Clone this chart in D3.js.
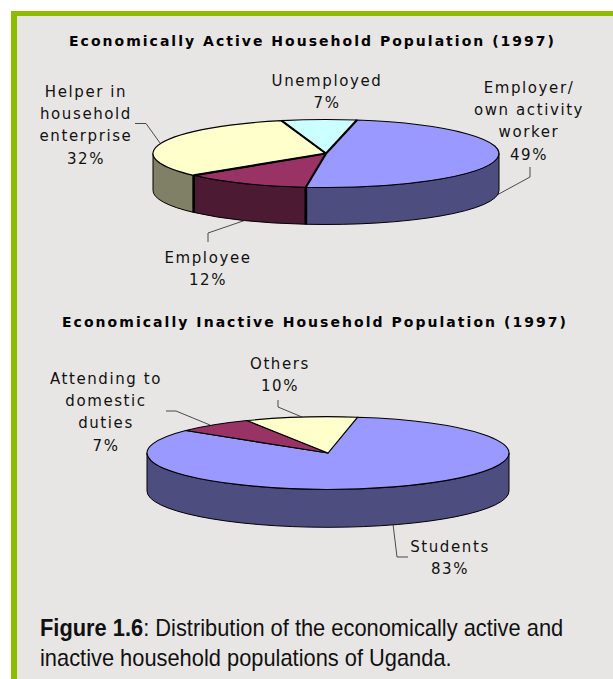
<!DOCTYPE html>
<html><head><meta charset="utf-8">
<script src="https://cdn.jsdelivr.net/npm/d3@7"></script>
<style>html,body{margin:0;padding:0;background:#fff}svg{display:block}</style>
</head><body><div id="c"></div>
<script>
const activeCategories = ["Employer/ own activity worker","Employee","Helper in household enterprise","Unemployed"];
const activeValues = [49,12,32,7];
const activeTop = ["#9999ff","#993366","#ffffcc","#ccffff"];
const activeSide = ["#4d4d80","#4d1a33","#808066","#668080"];
const inactiveCategories = ["Students","Attending to domestic duties","Others"];
const inactiveValues = [83,7,10];
const inactiveTop = ["#9999ff","#993366","#ffffcc"];
const inactiveSide = ["#4d4d80","#4d1a33","#808066"];

const W=613,H=679;
const svg=d3.select("#c").append("svg").attr("width",W).attr("height",H);
svg.append("rect").attr("width",W).attr("height",H).attr("fill","#fff");
svg.append("rect").attr("x",11).attr("y",11).attr("width",W).attr("height",H).attr("fill","#8cbb00");
svg.append("rect").attr("x",17).attr("y",16).attr("width",W).attr("height",H).attr("fill","#e8e6e4");

const rad=d=>d*Math.PI/180;
function pie3d(o){
  const g=svg.append("g").attr("transform",`translate(${o.cx},${o.cy})`);
  const slices=d3.pie().sort(null).startAngle(rad(o.start)).endAngle(rad(o.start+360))(o.values);
  const k=o.ry/o.rx;
  const pt=a=>[o.rx*Math.sin(a),-o.ry*Math.cos(a)];
  const lo=Math.PI/2, hi=3*Math.PI/2;
  slices.forEach((s,i)=>{
    const a0=Math.max(s.startAngle,lo), a1=Math.min(s.endAngle,hi);
    if(a1<=a0) return;
    const p0=pt(a0),p1=pt(a1);
    g.append("path").attr("fill",o.side[i]).attr("stroke","#000").attr("stroke-width",1)
     .attr("d",`M${p0[0]},${p0[1]}A${o.rx},${o.ry} 0 0 1 ${p1[0]},${p1[1]}L${p1[0]},${p1[1]+o.depth}A${o.rx},${o.ry} 0 0 0 ${p0[0]},${p0[1]+o.depth}Z`);
  });
  const arc=d3.arc().innerRadius(0).outerRadius(o.rx);
  slices.forEach((s,i)=>{
    g.append("path").attr("transform",`scale(1,${k})`).attr("d",arc(s))
     .attr("fill",o.top[i]).attr("stroke","#000").attr("stroke-width",1.1)
     .attr("stroke-linejoin","round").style("vector-effect","non-scaling-stroke");
  });
  if(o.seam) slices.forEach(s=>{
    const p=pt(s.startAngle);
    g.append("line").attr("x1",0).attr("y1",0).attr("x2",p[0]).attr("y2",p[1]).attr("stroke","#000").attr("stroke-width",o.seam);
    if(s.startAngle>lo&&s.startAngle<hi)
      g.append("line").attr("x1",p[0]).attr("y1",p[1]).attr("x2",p[0]).attr("y2",p[1]+o.depth).attr("stroke","#000").attr("stroke-width",o.seam+.6);
  });
}
pie3d({cx:326,cy:153.5,rx:173,ry:34,depth:37,start:10.3,values:activeValues,top:activeTop,side:activeSide,seam:2.1});
pie3d({cx:328,cy:453,rx:181,ry:36.3,depth:38,start:9.4,values:inactiveValues,top:inactiveTop,side:inactiveSide});

const FONT="'DejaVu Sans', sans-serif";
function title(t,x,y,w){svg.append("text").attr("x",x).attr("y",y).attr("font-family",FONT).attr("font-weight",700)
  .attr("font-size",14).attr("textLength",w).attr("fill","#000").text(t);}
title("Economically Active Household Population (1997)",69,46,485);
title("Economically Inactive Household Population (1997)",62,327,504);
function label(lines,x,y){const t=svg.append("text").attr("text-anchor","middle").attr("font-family",FONT)
  .attr("font-size",15).attr("letter-spacing",1.6).attr("fill","#111");
  lines.forEach((l,i)=>t.append("tspan").attr("x",x).attr("y",y+i*22.2).text(l));}
label(["Helper in","household","enterprise","32%"],86,97);
label(["Unemployed","7%"],327,85.5);
label(["Employer/","own activity","worker","49%"],529,93);
label(["Employee","12%"],208,263);
label(["Attending to","domestic","duties","7%"],106,384);
label(["Others","10%"],280,369);
label(["Students","83%"],450,552);

const lead=d3.line();
[[[135,123.5],[146,123.5],[160,143]],
 [[530,167],[530,177],[497,195]],
 [[208,242],[208,233],[246,220]],
 [[166,411],[176,411],[210,425]],
 [[278,400],[278,407],[302,417]],
 [[393,524],[397,557],[408,557]]].forEach(p=>{
  svg.append("path").attr("d",lead(p)).attr("fill","none").attr("stroke","#222").attr("stroke-width",.8);
});

const cap=svg.append("text").attr("transform","translate(40,0) scale(.95,1)").attr("font-family","'Liberation Sans',sans-serif").attr("font-size",23).attr("fill","#111");
const l1=cap.append("tspan").attr("x",0).attr("y",636);
l1.append("tspan").attr("font-weight",700).text("Figure 1.6");
l1.append("tspan").text(": Distribution of the economically active and");
cap.append("tspan").attr("x",0).attr("y",666.5).text("inactive household populations of Uganda.");
</script></body></html>
